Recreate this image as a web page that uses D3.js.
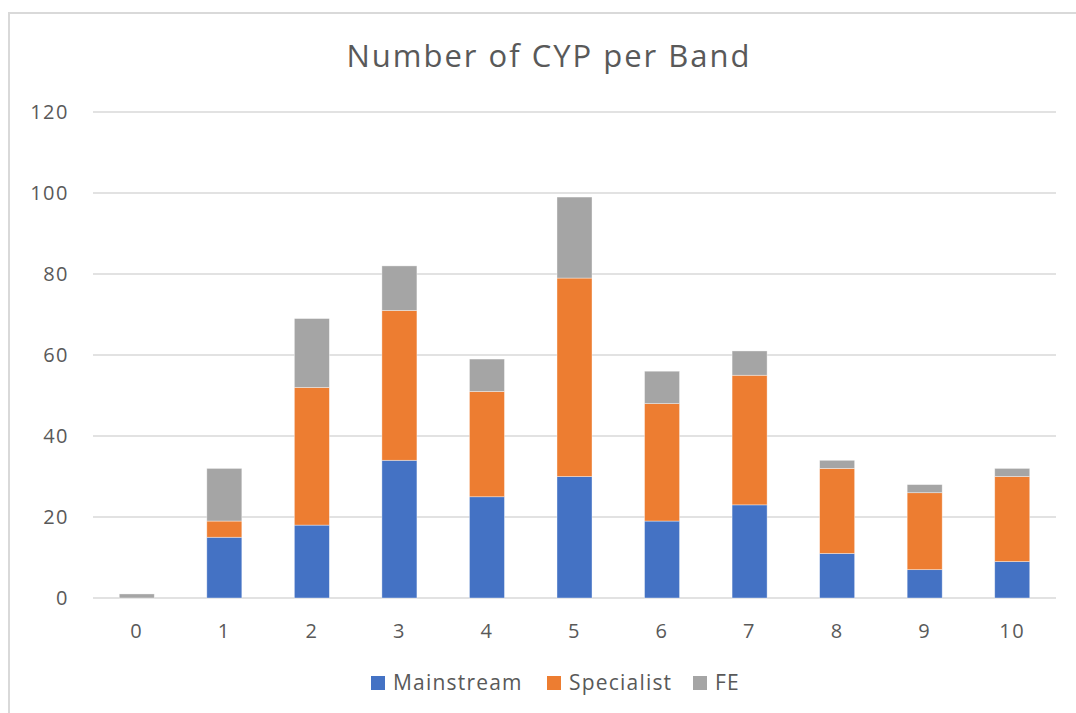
<!DOCTYPE html>
<html>
<head>
<meta charset="utf-8">
<script src="https://cdn.jsdelivr.net/npm/d3@7"></script>
<style>
  body { margin: 0; background: #fff; }
  svg { display: block; font-family: "Open Sans", "Noto Sans", sans-serif; }
</style>
</head>
<body>
<div id="chart"></div>
<script>
// chart data
const bands = ['0', '1', '2', '3', '4', '5', '6', '7', '8', '9', '10'];
const mainstream = [0, 15, 18, 34, 25, 30, 19, 23, 11, 7, 9];
const specialist = [0, 4, 34, 37, 26, 49, 29, 32, 21, 19, 21];
const fe = [1, 13, 17, 11, 8, 20, 8, 6, 2, 2, 2];
const seriesNames = ['Mainstream', 'Specialist', 'FE'];
const seriesColors = ['#4472c4', '#ed7d31', '#a5a5a5'];
const yTicks = [0, 20, 40, 60, 80, 100, 120];

const width = 1076, height = 713;
const plotLeft = 93, plotRight = 1056, plotTop = 112, plotBottom = 598;

const svg = d3.select('#chart').append('svg')
    .attr('width', width)
    .attr('height', height);

// chart area border
svg.append('rect')
    .attr('x', 9).attr('y', 13)
    .attr('width', width + 20).attr('height', height + 20)
    .attr('fill', 'none')
    .attr('stroke', '#d9d9d9')
    .attr('stroke-width', 2);

const table = bands.map((b, i) => ({
    band: b,
    Mainstream: mainstream[i],
    Specialist: specialist[i],
    FE: fe[i]
}));

const x = d3.scaleBand()
    .domain(bands)
    .range([plotLeft, plotRight])
    .paddingInner(0.6)
    .paddingOuter(0.3);

const y = d3.scaleLinear()
    .domain([0, 120])
    .range([plotBottom, plotTop]);

// gridlines
svg.append('g')
    .selectAll('line')
    .data(yTicks)
    .join('line')
    .attr('x1', plotLeft)
    .attr('x2', plotRight)
    .attr('y1', d => y(d))
    .attr('y2', d => y(d))
    .attr('stroke', '#d9d9d9')
    .attr('stroke-width', 1.5);

// y axis labels
const yAxis = svg.append('g')
    .attr('transform', 'translate(69,0)')
    .call(d3.axisLeft(y).tickValues(yTicks).tickSize(0).tickPadding(0));
yAxis.select('.domain').remove();
yAxis.selectAll('text')
    .attr('fill', '#595959')
    .style('font-size', '20px')
    .style('letter-spacing', '1.5px')
    .style('font-family', '"Open Sans", sans-serif');

// x axis labels
const xAxis = svg.append('g')
    .attr('transform', `translate(0,${y(0)})`)
    .call(d3.axisBottom(x).tickSize(0).tickPadding(26));
xAxis.select('.domain').remove();
xAxis.selectAll('text')
    .attr('fill', '#595959')
    .style('font-size', '20px')
    .style('letter-spacing', '1.5px')
    .style('font-family', '"Open Sans", sans-serif');

// stacked bars
const stack = d3.stack().keys(seriesNames)(table);

svg.append('g')
    .selectAll('g')
    .data(stack)
    .join('g')
    .attr('fill', (d, i) => seriesColors[i])
    .selectAll('rect')
    .data(d => d.filter(s => s[1] - s[0] > 0))
    .join('rect')
    .attr('x', d => x(d.data.band))
    .attr('width', x.bandwidth())
    .attr('y', d => y(d[1]))
    .attr('height', d => y(d[0]) - y(d[1]))
    .attr('stroke', '#ffffff')
    .attr('stroke-opacity', 0.5)
    .attr('stroke-width', 0.75);

// title
svg.append('text')
    .attr('x', 549)
    .attr('y', 67)
    .attr('text-anchor', 'middle')
    .attr('fill', '#595959')
    .style('font-size', '31px')
    .style('letter-spacing', '2px')
    .text('Number of CYP per Band');

// legend
const legendX = [371, 547, 693];
const legend = svg.append('g')
    .selectAll('g')
    .data(seriesNames)
    .join('g')
    .attr('transform', (d, i) => `translate(${legendX[i]},683)`);

legend.append('rect')
    .attr('x', 0)
    .attr('y', -7)
    .attr('width', 14)
    .attr('height', 14)
    .attr('fill', (d, i) => seriesColors[i]);

legend.append('text')
    .attr('x', 22)
    .attr('y', 0)
    .attr('dy', '0.35em')
    .attr('fill', '#595959')
    .style('font-size', '21px')
    .style('letter-spacing', '1.2px')
    .text(d => d);
</script>
</body>
</html>
